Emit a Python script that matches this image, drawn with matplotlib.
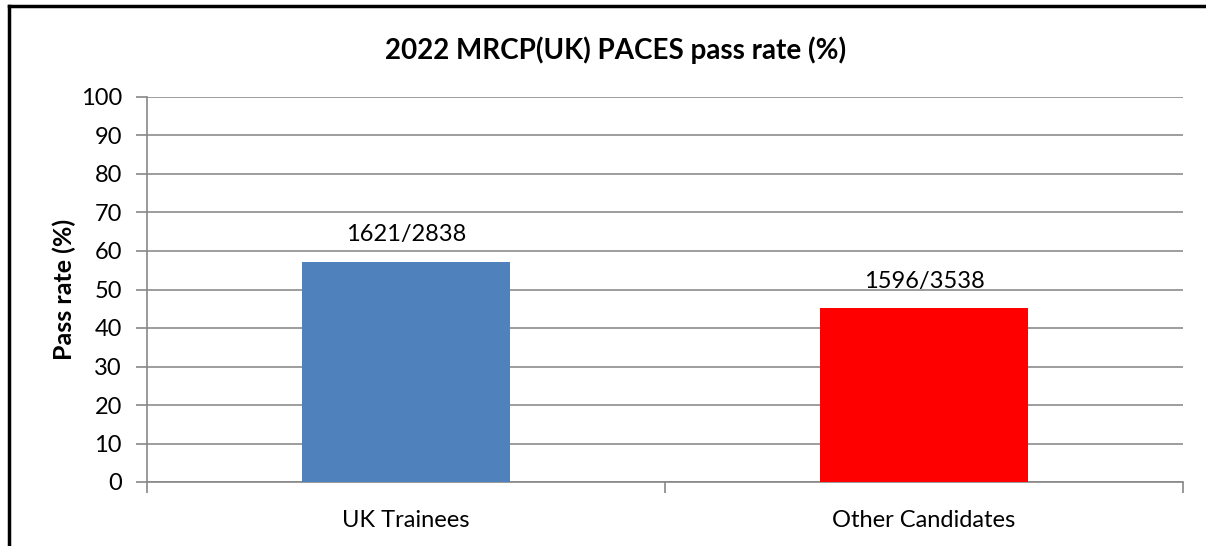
import matplotlib.pyplot as plt
from matplotlib.lines import Line2D

categories = ['UK Trainees', 'Other Candidates']
pass_rate = [57.1, 45.1]
bar_labels = ['1621/2838', '1596/3538']
bar_colors = ['#4f81bd', '#ff0000']

plt.rcParams['font.family'] = ['Lato', 'DejaVu Sans']

fig = plt.figure(figsize=(12.06, 5.46), dpi=100)
ax = fig.add_axes([147 / 1206, 1 - 482 / 546, (1183 - 147) / 1206, (482 - 97) / 546])

x = range(len(categories))
bars = ax.bar(x, pass_rate, width=0.4, color=bar_colors, zorder=3)
for b, lab in zip(bars, bar_labels):
    ax.annotate(lab, (b.get_x() + b.get_width() / 2, b.get_height()),
                xytext=(0, 12), textcoords='offset points',
                ha='center', va='bottom', fontsize=17)

ax.set_xlim(-0.5, len(categories) - 0.5)
ax.set_ylim(0, 100)
ax.set_yticks(range(0, 101, 10))
ax.set_xticks([-0.5, 0.5, 1.5], minor=False)
ax.set_xticklabels([])
ax.set_xticks(list(x), minor=True)
ax.set_xticklabels(categories, minor=True)
ax.tick_params(axis='x', which='minor', length=0, pad=20, labelsize=17)
ax.tick_params(axis='x', which='major', length=8, color='#888888', width=1.2)
ax.tick_params(axis='y', length=8, color='#888888', width=1.2, labelsize=17, pad=10)

ax.grid(axis='y', color='#8c8c8c', linewidth=1.2, zorder=0)
for side in ['top', 'right']:
    ax.spines[side].set_visible(False)
ax.spines['left'].set_color('#888888')
ax.spines['bottom'].set_color('#888888')
ax.spines['left'].set_linewidth(1.2)
ax.spines['bottom'].set_linewidth(1.2)

ax.set_ylabel('Pass rate (%)', fontsize=18, fontweight='bold')
ax.yaxis.set_label_coords(-(147 - 76) / 1036, 0.5)
fig.text(616 / 1206, 1 - 50 / 546, '2022 MRCP(UK) PACES pass rate (%)',
         ha='center', va='center', fontsize=20, fontweight='bold')

# outer frame (left and top edges visible)
fig.add_artist(Line2D([8.5 / 1206, 8.5 / 1206], [0, 1 - 6 / 546], color='black', linewidth=2.5,
                      transform=fig.transFigure))
fig.add_artist(Line2D([8.5 / 1206, 1], [1 - 6 / 546, 1 - 6 / 546], color='black', linewidth=2.5,
                      transform=fig.transFigure))

fig.savefig('out.png', dpi=100)
